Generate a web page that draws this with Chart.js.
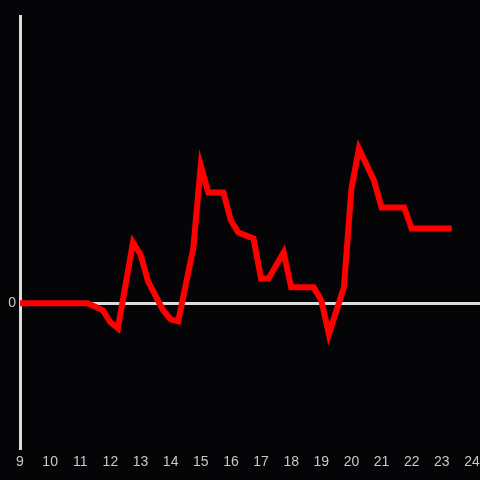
<!DOCTYPE html>
<html>
<head>
<meta charset="utf-8">
<script src="https://cdn.jsdelivr.net/npm/chart.js@4.4.1/dist/chart.umd.min.js"></script>
<style>
  html, body { margin: 0; padding: 0; background: #050407; }
  #grafico { display: block; }
</style>
</head>
<body>
<canvas id="grafico" width="480" height="480"></canvas>
<script>
// horas del dia (eje x)
var horas = [9, 11.25, 11.75, 12, 12.25, 12.75, 13, 13.25, 13.75, 14, 14.25, 14.75,
             15, 15.25, 15.75, 16, 16.25, 16.75, 17, 17.25, 17.75, 18, 18.75, 19,
             19.25, 19.75, 20, 20.25, 20.75, 21, 21.75, 22, 23.33];
// valores de la serie
var valores = [0, 0, -0.7, -1.9, -2.5, 6.1, 4.9, 2.2, -0.7, -1.6, -1.8, 5.5,
               13.8, 11.1, 11.1, 8.3, 7.1, 6.5, 2.5, 2.5, 5.1, 1.6, 1.6, 0.3,
               -3.1, 1.6, 11.5, 15.5, 12.3, 9.6, 9.6, 7.5, 7.5];
// etiquetas de los ejes
var ticksX = [9, 10, 11, 12, 13, 14, 15, 16, 17, 18, 19, 20, 21, 22, 23, 24];
var ticksY = [0];

var puntos = [];
for (var i = 0; i < horas.length; i++) {
    puntos.push({ x: horas[i], y: valores[i] });
}

var colorEje = '#dcdcdc';
var fuente = { family: 'Liberation Sans', size: 14 };

new Chart(document.getElementById('grafico').getContext('2d'), {
    type: 'line',
    data: {
        datasets: [{
            data: puntos,
            borderColor: '#ff0000',
            borderWidth: 6,
            pointRadius: 0,
            tension: 0,
            fill: false
        }]
    },
    options: {
        responsive: false,
        animation: false,
        layout: { padding: { top: 16, right: 0, left: 0, bottom: 0 } },
        plugins: { legend: { display: false }, tooltip: { enabled: false } },
        scales: {
            x: {
                type: 'linear',
                min: 9,
                max: 24.267,
                afterBuildTicks: function (scale) {
                    scale.ticks = ticksX.map(function (v) { return { value: v }; });
                },
                afterFit: function (scale) { scale.height = 32; },
                grid: { display: false },
                border: { display: false },
                ticks: { color: '#c8c8c8', font: fuente, padding: -2, autoSkip: false, maxRotation: 0 }
            },
            y: {
                min: -14.5,
                max: 28.8,
                afterBuildTicks: function (scale) {
                    scale.ticks = ticksY.map(function (v) { return { value: v }; });
                },
                afterFit: function (scale) { scale.width = 20; },
                grid: { color: colorEje, lineWidth: 3, drawTicks: false },
                border: { display: true, color: colorEje, width: 3 },
                ticks: { color: '#c8c8c8', font: fuente, padding: 4 }
            }
        }
    }
});
</script>
</body>
</html>
